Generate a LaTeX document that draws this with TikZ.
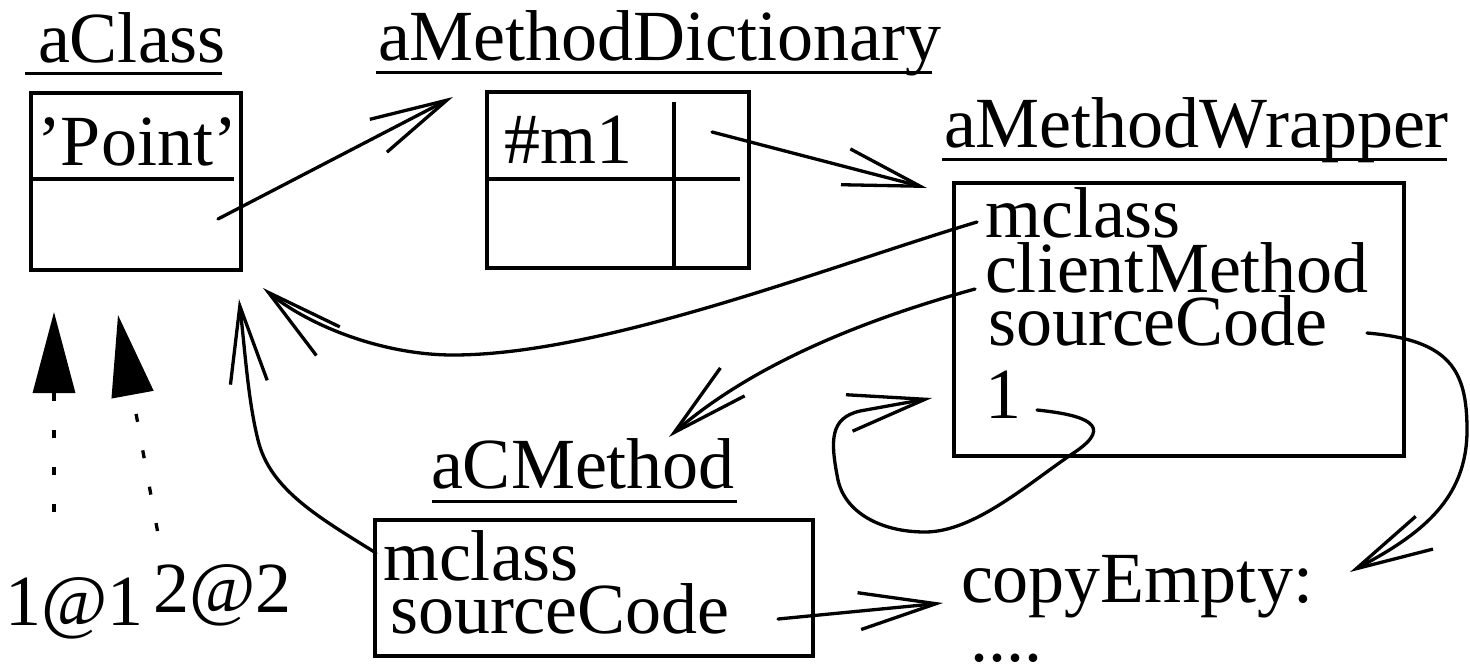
\documentclass[tikz,border=0pt]{standalone}
\usepackage{fontspec}
\setmainfont{Liberation Serif}
\usetikzlibrary{arrows.meta}
\begin{document}
\begin{tikzpicture}[x=0.5pt,y=-0.5pt,
  every node/.style={inner sep=0pt, outer sep=0pt},
  txt/.style={anchor=base west, font=\fontsize{36}{40}\selectfont},
  box/.style={draw, line width=1.7pt, rectangle},
  divline/.style={line width=1.7pt},
  uline/.style={line width=1.5pt},
  conn/.style={line width=1.65pt, line cap=round, -{Straight Barb[length=38.5pt,width=18.5pt]}},
  dotconn/.style={line width=1.65pt, dash pattern=on 4pt off 14.5pt, -{Triangle[length=40.5pt,width=21pt]}}
]
\useasboundingbox (0,0) rectangle (1470,664);

% boxes
\node[box, minimum width=105pt, minimum height=88.5pt] (cls) at (136,181.5) {};
\node[box, minimum width=131pt, minimum height=88pt] (dict) at (618,180) {};
\node[box, minimum width=225pt, minimum height=136.5pt] (wrap) at (1179,319.5) {};
\node[box, minimum width=219pt, minimum height=68pt] (cm) at (594,588) {};

% dividers
\draw[divline] (31,179) -- (234,179);
\draw[divline] (487,179) -- (740,179);
\draw[divline] (674,102) -- (674,268);

% labels
\node[txt] (lcls) at (38,62) {aClass};
\node[txt] (ldict) at (378,60) {aMethodDictionary};
\node[txt] (lwrap) at (944,147) {aMethodWrapper};
\node[txt] (lcm) at (431,488) {aCMethod};
\draw[uline] (25,73) -- (222,73);
\draw[uline] (376,72) -- (932,72);
\draw[uline] (942,159) -- (1447,159);
\draw[uline] (432,501) -- (737,501);

% contents
\node[txt] (point) at (37,165) {’Point’};
\node[txt] (m1) at (504,163) {\#m1};
\node[txt] (wmc) at (985,237) {mclass};
\node[txt] (wcm) at (985,292) {clientMethod};
\node[txt] (wsc) at (988,345) {sourceCode};
\node[txt] (wone) at (985,418) {1};
\node[txt] (cmmc) at (383,580) {mclass};
\node[txt] (cmsc) at (390,633) {sourceCode};
\node[txt] (ce) at (961,602) {copyEmpty:};
\node[txt] (dots) at (970,661) {....};
\node[txt] (l11) at (5,625) {1@1};
\node[txt] (l22) at (153,612) {2@2};

% connector end points
\coordinate (a1s) at (218,219); \coordinate (a1e) at (453,97);
\coordinate (a2s) at (712,132); \coordinate (a2e) at (927,188);
\coordinate (a3s) at (977,222); \coordinate (a3e) at (263,288);
\coordinate (a4s) at (975,289); \coordinate (a4e) at (669,437);
\coordinate (a5s) at (1367,333); \coordinate (a5e) at (1350,572);
\coordinate (a6s) at (1037,410); \coordinate (a6e) at (932,398);
\coordinate (a7s) at (376,553); \coordinate (a7e) at (239,299);
\coordinate (a8s) at (778,619); \coordinate (a8e) at (943,603);
\coordinate (d1s) at (54,512); \coordinate (d1e) at (54,312);
\coordinate (d2s) at (157.5,531); \coordinate (d2e) at (118,315);

% connectors
\draw[conn] (a1s) -- (a1e);
\draw[conn] (a2s) -- (a2e);
\draw[conn] (a3s) .. controls (827,267) and (603,355) .. (453,355) .. controls (383,355) and (309.5,326) .. (a3e);
\draw[conn] (a4s) .. controls (845,325) and (744.5,371.5) .. (a4e);
\draw[conn] (a5s) .. controls (1450,340) and (1467,370) .. (1467,430) .. controls (1467,500) and (1420,535) .. (a5e);
\draw[conn] (a6s) .. controls (1085,415) and (1115,425) .. (1075,452) .. controls (1030,482) and (975,532) .. (925,532) .. controls (880,532) and (845,512) .. (838,480) .. controls (830,440) and (830,418) .. (860,411) -- (a6e);
\draw[conn] (a7s) .. controls (320,518) and (270,490) .. (258,440) .. controls (248,400) and (245,350) .. (a7e);
\draw[conn] (a8s) -- (a8e);
\draw[dotconn] (d1s) -- (d1e);
\draw[dotconn] (d2s) -- (d2e);
\end{tikzpicture}
\end{document}
